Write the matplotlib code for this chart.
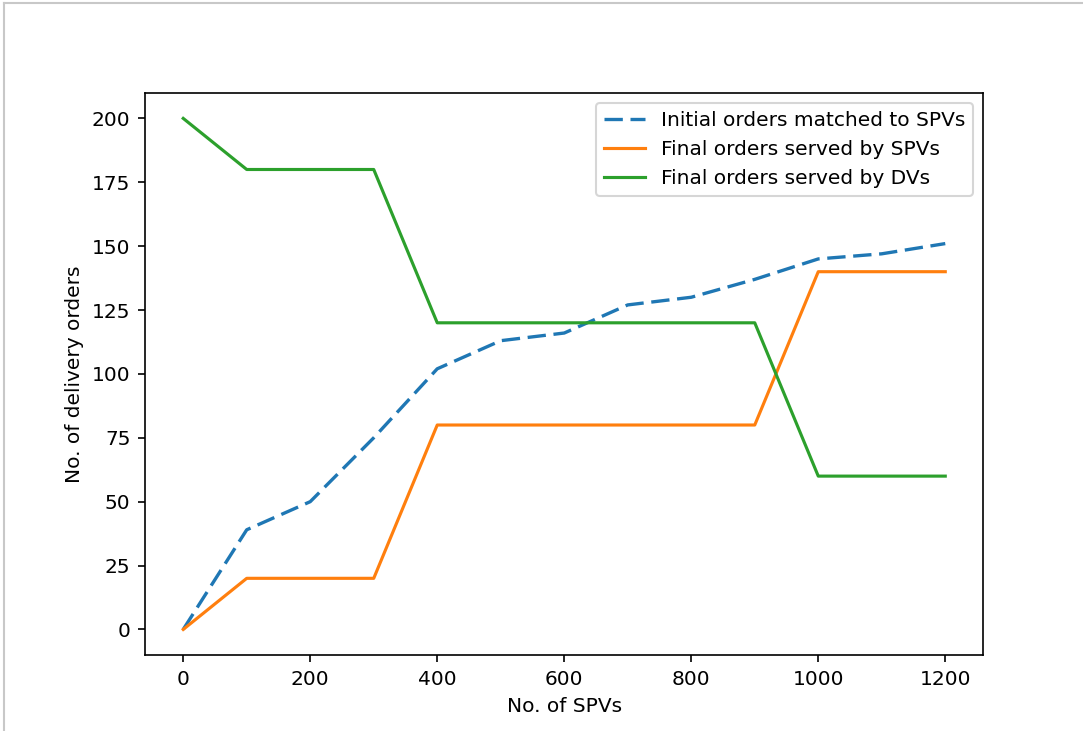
import matplotlib
matplotlib.use("Agg")
import matplotlib.pyplot as plt
from matplotlib.lines import Line2D

# values
n_spvs = [0, 100, 200, 300, 400, 500, 600, 700, 800, 900, 1000, 1100, 1200]
initial_matched = [0, 39, 50, 75, 102, 113, 116, 127, 130, 137, 145, 147, 151]
final_spv = [0, 20, 20, 20, 80, 80, 80, 80, 80, 80, 140, 140, 140]
final_dv = [200, 180, 180, 180, 120, 120, 120, 120, 120, 120, 60, 60, 60]

plt.rcParams["font.size"] = 9.7

fig = plt.figure(figsize=(1083 / 150, 731 / 150), dpi=150)
ax = fig.add_axes([0.134, 0.104, 0.774, 0.769])

ax.plot(n_spvs, initial_matched, linestyle=(0, (5.5, 2.3)), lw=1.6, label="Initial orders matched to SPVs")
ax.plot(n_spvs, final_spv, label="Final orders served by SPVs")
ax.plot(n_spvs, final_dv, label="Final orders served by DVs")

ax.set_xlabel("No. of SPVs")
ax.set_ylabel("No. of delivery orders")
ax.set_xticks(range(0, 1201, 200))
ax.set_yticks(range(0, 201, 25))
ax.legend(loc="upper right")

# screenshot frame
fig.add_artist(Line2D([0.004, 1], [0.996, 0.996], transform=fig.transFigure, color="#c8c8c8", lw=1))
fig.add_artist(Line2D([0.004, 0.004], [0, 0.996], transform=fig.transFigure, color="#c8c8c8", lw=1))

fig.savefig("out.png", dpi=150)
